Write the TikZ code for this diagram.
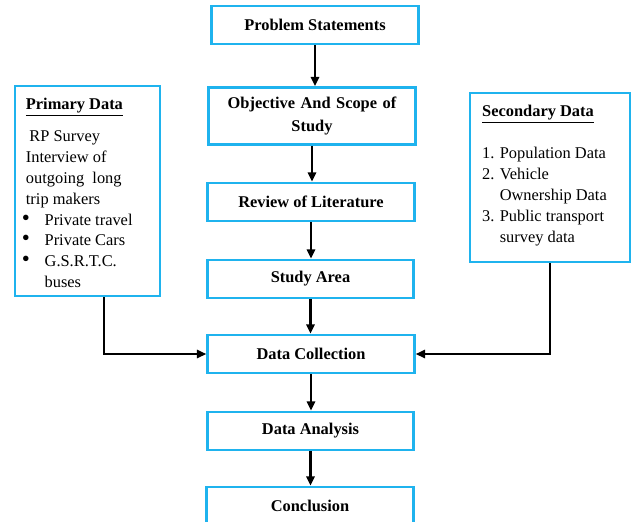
\documentclass[tikz,border=0pt]{standalone}
\usepackage{fontspec}
\setmainfont{Liberation Serif}
\usetikzlibrary{arrows.meta,positioning,calc}
\definecolor{boxblue}{HTML}{1FB3EE}
\newcommand{\bigdot}{\makebox[20pt][l]{\hspace{0.5pt}\scalebox{1.4}{\textbullet}}}

\begin{document}
\begin{tikzpicture}[x=0.03cm,y=-0.03cm,
    flowbox/.style={draw=boxblue, line width=2.3pt, fill=white, minimum width=6.2cm, minimum height=1.14cm, align=center, inner sep=2pt, font=\fontsize{14}{20.4}\selectfont\bfseries},
    sidebox/.style={draw=boxblue, line width=2.3pt, fill=white},
    flow/.style={-{Triangle[length=8pt,width=7pt]}, line width=2.1pt}]
\useasboundingbox (0,0) rectangle (632,521);
\clip (0,0) rectangle (632,521);

% main column
\node[flowbox] (problem) at (315,25) {Problem Statements};
\node[flowbox, minimum height=1.71cm, text width=5.8cm] (objective) at (312,116) {Objective And Scope of\\Study};
\node[flowbox] (review) at (311,202) {Review of Literature};
\node[flowbox] (area) at (310.5,279) {Study Area};
\node[flowbox] (collect) at (311,354) {Data Collection};
\node[flowbox] (analysis) at (310.5,431) {Data Analysis};
\node[flowbox] (conclude) at (310,506) {Conclusion};

% side boxes
\node[sidebox, minimum width=4.35cm, minimum height=6.3cm] (primary) at (87.5,191) {};
\node[anchor=north west, align=left, inner sep=0pt, font=\fontsize{14}{17.9}\selectfont] (primtext) at (21,98) {
    \hspace{4pt}\textbf{\underline{Primary Data}}\\[9pt]
    \hspace{7pt}RP Survey\\
    \hspace{4pt}Interview of\\
    \hspace{4pt}outgoing\ \ long\\
    \hspace{4pt}trip makers\\
    \bigdot Private travel\\
    \bigdot Private Cars\\
    \bigdot G.S.R.T.C.\\
    \makebox[20pt][l]{}buses};

\node[sidebox, minimum width=4.8cm, minimum height=5.07cm] (secondary) at (550,177.5) {};
\node[anchor=north west, align=left, inner sep=0pt, font=\fontsize{14}{17.9}\selectfont] (sectext) at (482,105) {
    \textbf{\underline{Secondary Data}}\\[18pt]
    \makebox[15pt][l]{1.}Population Data\\
    \makebox[15pt][l]{2.}Vehicle\\
    \makebox[15pt][l]{}Ownership Data\\
    \makebox[15pt][l]{3.}Public transport\\
    \makebox[15pt][l]{}survey data};

% connectors
\draw[flow] (problem.south) -- (problem.south |- objective.north);
\draw[flow] (objective.south) -- (objective.south |- review.north);
\draw[flow] (review.south) -- (review.south |- area.north);
\draw[flow] (area.south) -- (area.south |- collect.north);
\draw[flow] (collect.south) -- (collect.south |- analysis.north);
\draw[flow] (analysis.south) -- (analysis.south |- conclude.north);
\draw[flow] ([xshift=0.5cm]primary.south) |- (collect.west);
\draw[flow] (secondary.south) |- (collect.east);
\end{tikzpicture}
\end{document}
